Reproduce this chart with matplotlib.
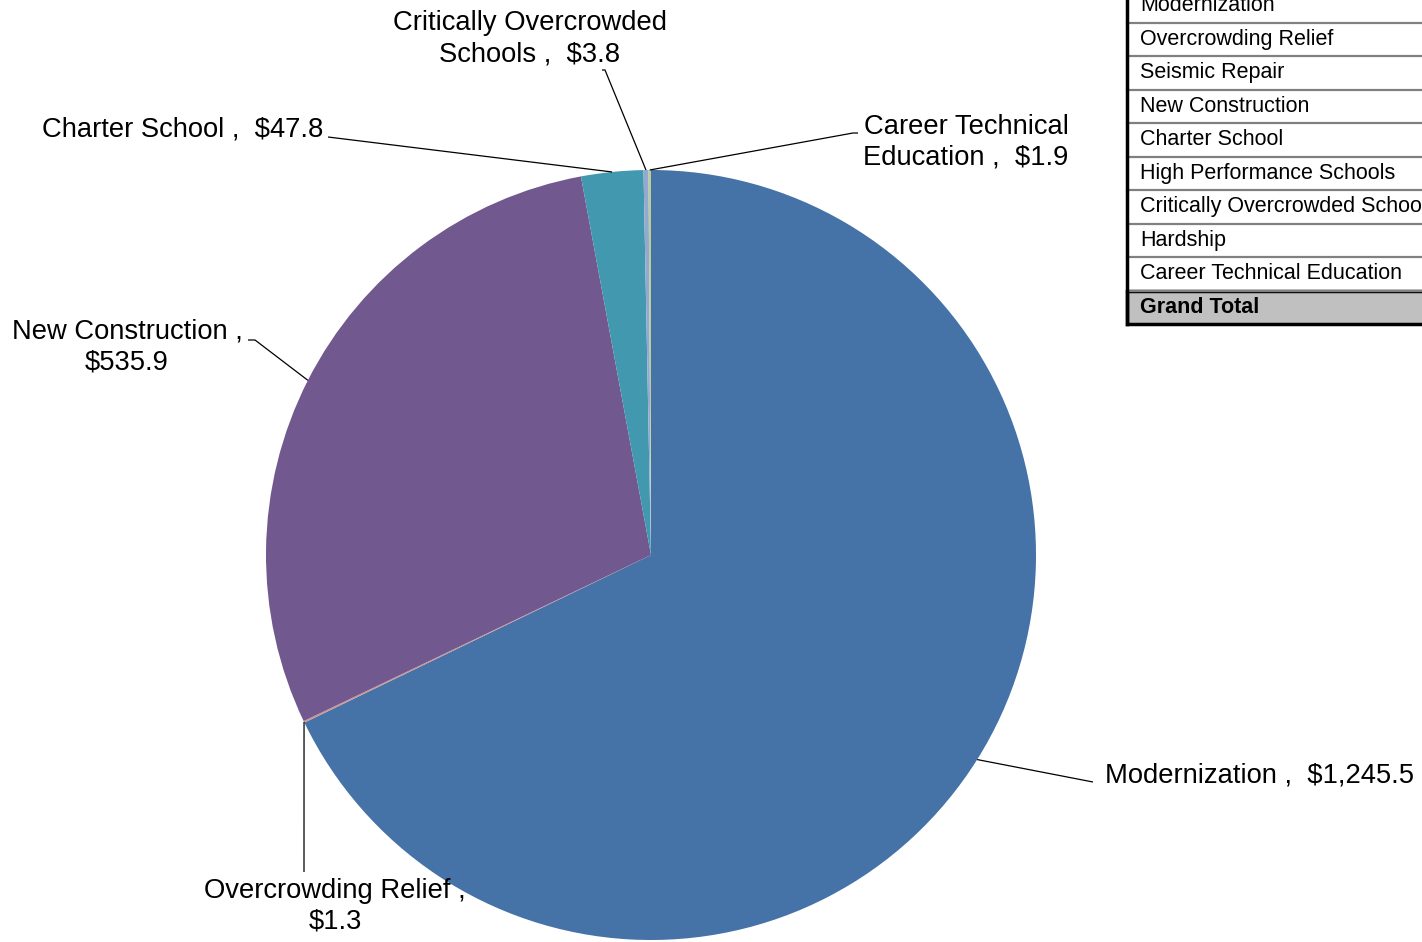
import matplotlib
matplotlib.use("Agg")
import matplotlib.pyplot as plt
import numpy as np

plt.rcParams["font.family"] = ["Liberation Sans", "DejaVu Sans"]

# pie data ($ millions), clockwise from 12 o'clock
categories = ["Modernization", "Overcrowding Relief", "New Construction",
              "Charter School", "Critically Overcrowded Schools",
              "Career Technical Education"]
values = [1245.5, 1.3, 535.9, 47.8, 3.8, 1.9]
colors = ["#4572A7", "#D19392", "#71588F", "#4198AF", "#93A9CF", "#B9CD96"]
label_text = ["Modernization ,  $1,245.5", "Overcrowding Relief ,\n$1.3",
              "New Construction ,\n$535.9", "Charter School ,  $47.8",
              "Critically Overcrowded\nSchools ,  $3.8",
              "Career Technical\nEducation ,  $1.9"]

# table rows on the right (cut off in the original)
table_rows = ["Modernization", "Overcrowding Relief", "Seismic Repair",
              "New Construction", "Charter School", "High Performance Schools",
              "Critically Overcrowded Schools", "Hardship",
              "Career Technical Education", "Grand Total"]

W, H = 1422, 942
fig = plt.figure(figsize=(W / 100, H / 100), dpi=100)
ax = fig.add_axes([0, 0, 1, 1])

cx, cy, r = 651, H - 555, 385
wedges, _ = ax.pie(values, colors=colors, startangle=90, counterclock=False,
                   center=(cx, cy), radius=r, frame=True,
                   wedgeprops=dict(linewidth=0))
ax.set_xlim(0, W)
ax.set_ylim(0, H)
ax.set_aspect("equal")
ax.axis("off")

# label placement: (leader end / elbow points in px, text anchor, ha)
layout = [
    ([(1093, 782)], (1105, 775), "left"),
    ([(304, 872)], (335, 906), "center"),
    ([(255, 340), (248, 340)], (127, 347), "center"),
    ([(328, 137)], (183, 129), "center"),
    ([(605, 70), (602, 70)], (530, 39), "center"),
    ([(853, 133), (858, 133)], (966, 142), "center"),
]

fs = 19.7
for w, txt, (pts, tpos, ha) in zip(wedges, label_text, layout):
    mid = np.deg2rad((w.theta1 + w.theta2) / 2)
    ex, ey = cx + r * np.cos(mid), cy + r * np.sin(mid)
    xs = [ex] + [p[0] for p in pts]
    ys = [ey] + [H - p[1] for p in pts]
    ax.plot(xs, ys, color="black", lw=0.9, solid_capstyle="butt")
    ax.text(tpos[0], H - tpos[1], txt, ha=ha, va="center", fontsize=fs,
            linespacing=1.25, color="black")

# table
tx0, row_h, top = 1127, 33.5, -11
for i, name in enumerate(table_rows):
    y0 = top + i * row_h
    last = i == len(table_rows) - 1
    if last:
        ax.add_patch(plt.Rectangle((tx0, H - y0 - row_h), W - tx0 + 20, row_h,
                                   facecolor="#C0C0C0", edgecolor="black",
                                   lw=2.5, clip_on=True))
    else:
        ax.plot([tx0, W], [H - y0 - row_h] * 2, color="#808080", lw=1.6)
    ax.text(1140, H - (y0 + row_h / 2), name, ha="left", va="center",
            fontsize=15.5, fontweight="bold" if last else "normal",
            clip_on=True)
ax.plot([tx0, tx0], [H - top, H - (top + len(table_rows) * row_h)],
        color="black", lw=2.5)

fig.savefig("out.png", dpi=100)
